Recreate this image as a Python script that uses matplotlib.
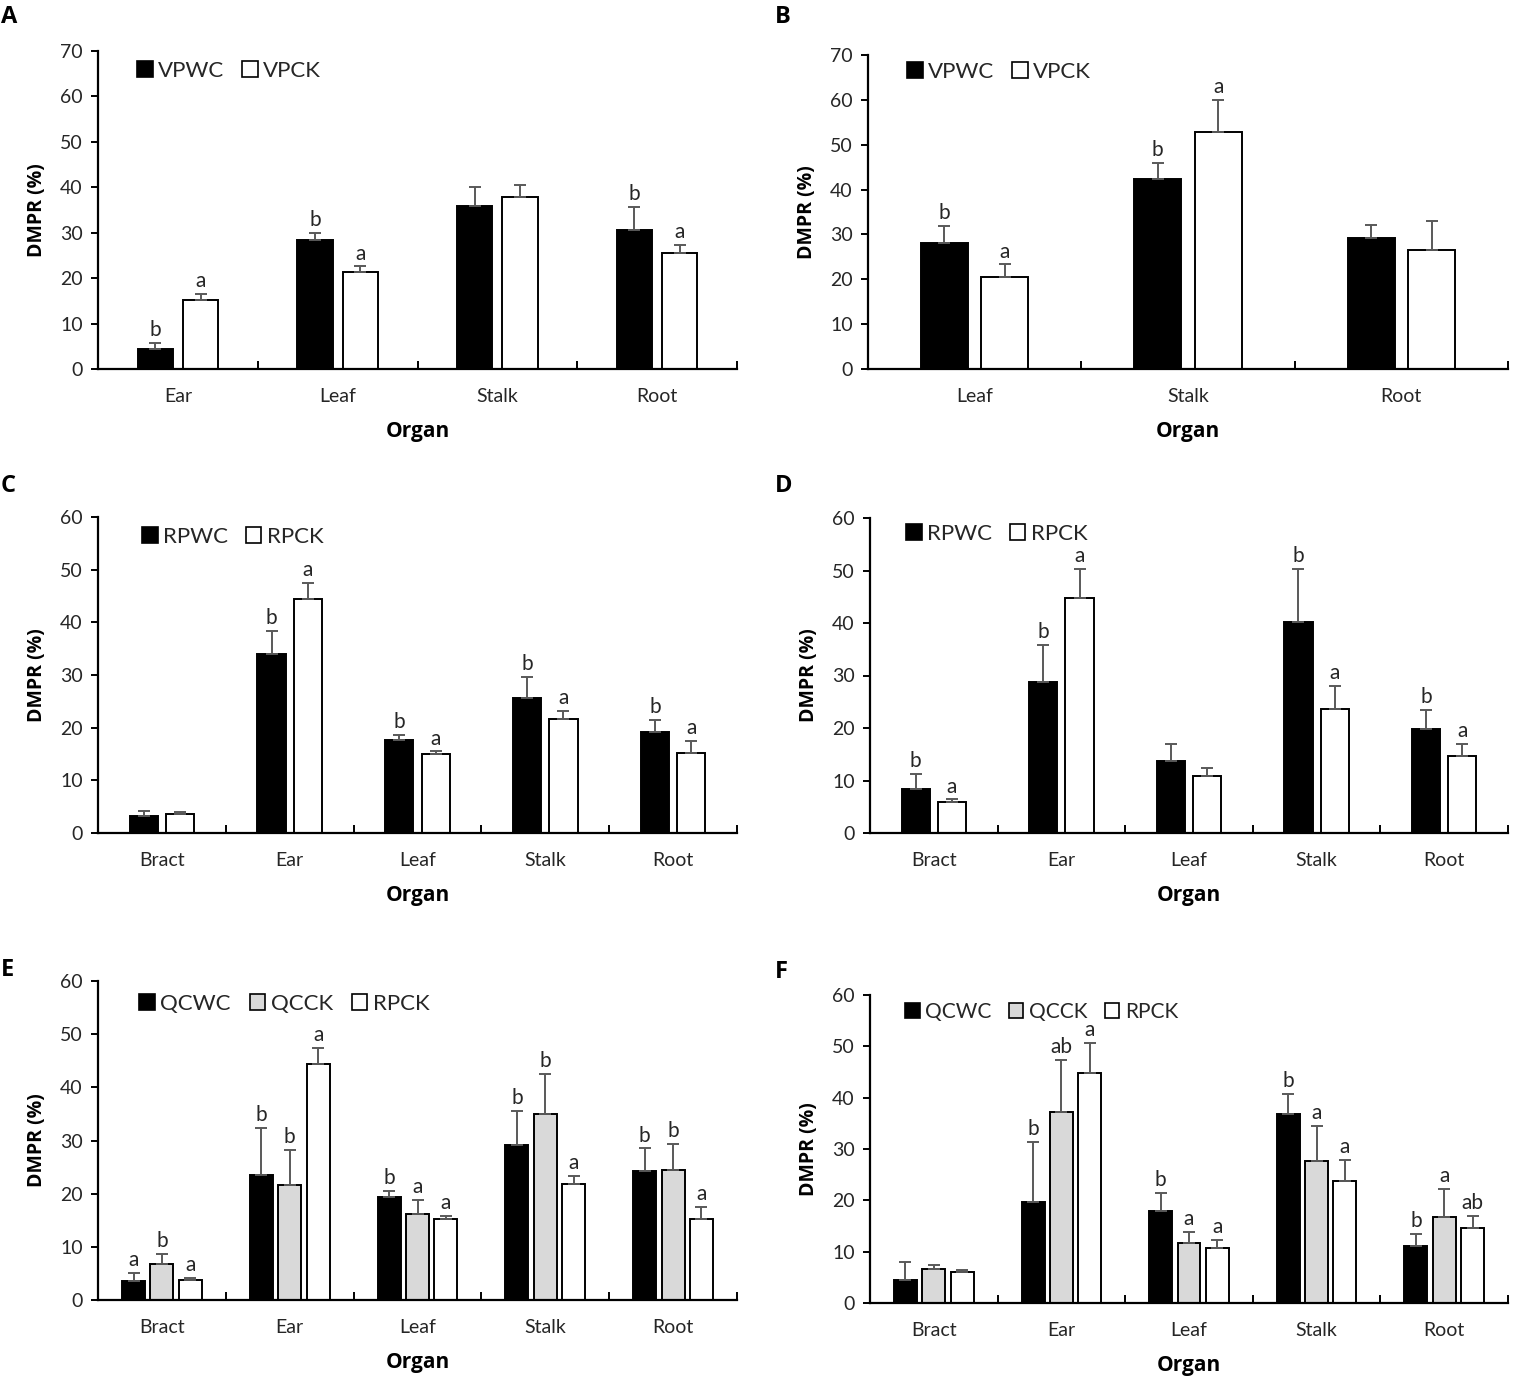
import matplotlib
matplotlib.use("Agg")
import matplotlib.pyplot as plt
from matplotlib.patches import Patch
import numpy as np

plt.rcParams['font.family'] = ['Lato', 'DejaVu Sans']

# ---------------- data ----------------
# Panel A
A_organs = ["Ear", "Leaf", "Stalk", "Root"]
A_series = ["VPWC", "VPCK"]
A_VPWC = [4.5, 28.4, 35.9, 30.6]
A_VPWC_err = [1.2, 1.5, 4.1, 5.1]
A_VPCK = [15.1, 21.4, 37.9, 25.5]
A_VPCK_err = [1.4, 1.2, 2.5, 1.9]
A_VPWC_let = ["b", "b", "", "b"]
A_VPCK_let = ["a", "a", "", "a"]

# Panel B
B_organs = ["Leaf", "Stalk", "Root"]
B_series = ["VPWC", "VPCK"]
B_VPWC = [28.2, 42.3, 29.2]
B_VPWC_err = [3.7, 3.6, 3.0]
B_VPCK = [20.4, 52.8, 26.6]
B_VPCK_err = [2.9, 7.2, 6.3]
B_VPWC_let = ["b", "b", ""]
B_VPCK_let = ["a", "a", ""]

# Panel C
C_organs = ["Bract", "Ear", "Leaf", "Stalk", "Root"]
C_series = ["RPWC", "RPCK"]
C_RPWC = [3.3, 34.0, 17.6, 25.7, 19.1]
C_RPWC_err = [0.9, 4.4, 1.0, 3.9, 2.4]
C_RPCK = [3.7, 44.5, 15.0, 21.7, 15.2]
C_RPCK_err = [0.3, 3.0, 0.5, 1.5, 2.3]
C_RPWC_let = ["", "b", "b", "b", "b"]
C_RPCK_let = ["", "a", "a", "a", "a"]

# Panel D
D_organs = ["Bract", "Ear", "Leaf", "Stalk", "Root"]
D_series = ["RPWC", "RPCK"]
D_RPWC = [8.4, 28.7, 13.7, 40.1, 19.8]
D_RPWC_err = [2.8, 7.2, 3.3, 10.2, 3.7]
D_RPCK = [5.9, 44.7, 10.8, 23.7, 14.6]
D_RPCK_err = [0.5, 5.6, 1.5, 4.3, 2.3]
D_RPWC_let = ["b", "b", "", "b", "b"]
D_RPCK_let = ["a", "a", "", "a", "a"]

# Panel E
E_organs = ["Bract", "Ear", "Leaf", "Stalk", "Root"]
E_series = ["QCWC", "QCCK", "RPCK"]
E_QCWC = [3.6, 23.6, 19.4, 29.2, 24.3]
E_QCWC_err = [1.5, 8.8, 1.1, 6.3, 4.2]
E_QCCK = [6.8, 21.6, 16.2, 34.9, 24.4]
E_QCCK_err = [1.9, 6.6, 2.6, 7.7, 4.9]
E_RPCK = [3.8, 44.4, 15.3, 21.8, 15.3]
E_RPCK_err = [0.4, 3.0, 0.5, 1.5, 2.2]
E_QCWC_let = ["a", "b", "b", "b", "b"]
E_QCCK_let = ["b", "b", "a", "b", "b"]
E_RPCK_let = ["a", "a", "a", "a", "a"]

# Panel F
F_organs = ["Bract", "Ear", "Leaf", "Stalk", "Root"]
F_series = ["QCWC", "QCCK", "RPCK"]
F_QCWC = [4.5, 19.7, 18.0, 36.9, 11.1]
F_QCWC_err = [3.4, 11.7, 3.4, 3.9, 2.4]
F_QCCK = [6.7, 37.3, 11.7, 27.6, 16.8]
F_QCCK_err = [0.8, 10.1, 2.1, 6.9, 5.4]
F_RPCK = [6.0, 44.8, 10.8, 23.7, 14.7]
F_RPCK_err = [0.5, 5.8, 1.5, 4.2, 2.2]
F_QCWC_let = ["", "b", "b", "b", "b"]
F_QCCK_let = ["", "ab", "a", "a", "a"]
F_RPCK_let = ["", "a", "a", "a", "ab"]

# ---------------- figure ----------------
W, H = 1535, 1382
fig = plt.figure(figsize=(W / 100, H / 100), dpi=100)

def rect(x0, x1, ytop, ybot):
    return [x0 / W, 1 - ybot / H, (x1 - x0) / W, (ybot - ytop) / H]

TXT = '#262626'
ERRC = '#595959'
BOLDFAM = ['Open Sans', 'DejaVu Sans']

def panel(box, letter, letter_xy, organs, series, vals, errs, lets, colors,
          ymax, legend_xy, legend_fs=16):
    ax = fig.add_axes(rect(*box))
    n = len(organs)
    k = len(series)
    if k == 2:
        width, pitch = 0.22, 0.284
    else:
        width, pitch = 0.18, 0.222
    centers = np.arange(n) + 0.5
    handles = []
    for j in range(k):
        off = (j - (k - 1) / 2) * pitch
        xs = centers + off
        ax.bar(xs, vals[j], width=width, color=colors[j], edgecolor='black',
               linewidth=1.4, zorder=3)
        ax.errorbar(xs, vals[j], yerr=[np.zeros(n), errs[j]], fmt='none',
                    ecolor=ERRC, elinewidth=1.4, capsize=4, capthick=1.4,
                    zorder=4)
        for xi, v, e, t in zip(xs, vals[j], errs[j], lets[j]):
            if t:
                ax.annotate(t, (xi, v + e), xytext=(0, 2),
                            textcoords='offset points', ha='center',
                            va='bottom', fontsize=15, color=TXT)
        handles.append(Patch(facecolor=colors[j], edgecolor='black',
                             linewidth=1.2, label=series[j]))
    ax.set_xlim(0, n)
    ax.set_ylim(0, ymax)
    ax.set_yticks(np.arange(0, ymax + 1, 10))
    ax.set_xticks(np.arange(0, n + 1))
    ax.set_xticklabels([])
    ax.set_xticks(centers, minor=True)
    ax.set_xticklabels(organs, minor=True)
    ax.tick_params(axis='x', which='major', direction='in', length=6,
                   width=1.4, color='black')
    ax.tick_params(axis='x', which='minor', length=0, pad=14,
                   labelsize=14, labelcolor=TXT)
    ax.tick_params(axis='y', direction='out', length=5, width=1.4,
                   labelsize=14, labelcolor=TXT, pad=6)
    for s in ['top', 'right']:
        ax.spines[s].set_visible(False)
    for s in ['left', 'bottom']:
        ax.spines[s].set_linewidth(1.6)
        ax.spines[s].set_zorder(5)
    ax_h = box[3] - box[2]
    ax_w = box[1] - box[0]
    ax.set_xlabel("Organ", fontsize=15, fontweight='bold', color='black',
                  family=BOLDFAM)
    ax.xaxis.set_label_coords(0.5, -52 / ax_h)
    ax.set_ylabel("DMPR (%)", fontsize=14, fontweight='bold', color='black',
                  family=BOLDFAM)
    ax.yaxis.set_label_coords(-51 / ax_w, 0.5)
    lx, ly = legend_xy
    ax.legend(handles=handles, loc='center left',
              bbox_to_anchor=((lx - box[0]) / ax_w, (box[3] - ly) / ax_h),
              frameon=False, ncol=k, handlelength=0.7, handleheight=0.7,
              handletextpad=0.25, columnspacing=0.85 if k == 3 else 0.8,
              fontsize=legend_fs, labelcolor=TXT, borderaxespad=0,
              borderpad=0)
    fig.text(letter_xy[0] / W, 1 - letter_xy[1] / H, letter, fontsize=17,
             fontweight='bold', ha='left', va='center', color='black',
             family=BOLDFAM)
    return ax

BW = ['black', 'white']
BGW = ['black', '#d9d9d9', 'white']

panel((98, 737, 51, 369), "A", (1, 17), A_organs, A_series,
      [A_VPWC, A_VPCK], [A_VPWC_err, A_VPCK_err], [A_VPWC_let, A_VPCK_let],
      BW, 70, (137, 71))
panel((868, 1508, 55, 369), "B", (775, 17), B_organs, B_series,
      [B_VPWC, B_VPCK], [B_VPWC_err, B_VPCK_err], [B_VPWC_let, B_VPCK_let],
      BW, 70, (907, 72))
panel((98, 737, 517, 833), "C", (1, 486), C_organs, C_series,
      [C_RPWC, C_RPCK], [C_RPWC_err, C_RPCK_err], [C_RPWC_let, C_RPCK_let],
      BW, 60, (142, 537))
panel((870, 1508, 518, 833), "D", (775, 486), D_organs, D_series,
      [D_RPWC, D_RPCK], [D_RPWC_err, D_RPCK_err], [D_RPWC_let, D_RPCK_let],
      BW, 60, (906, 534))
panel((98, 737, 981, 1300), "E", (1, 970), E_organs, E_series,
      [E_QCWC, E_QCCK, E_RPCK], [E_QCWC_err, E_QCCK_err, E_RPCK_err],
      [E_QCWC_let, E_QCCK_let, E_RPCK_let], BGW, 60, (139, 1004))
panel((870, 1508, 995, 1303), "F", (775, 972), F_organs, F_series,
      [F_QCWC, F_QCCK, F_RPCK], [F_QCWC_err, F_QCCK_err, F_RPCK_err],
      [F_QCWC_let, F_QCCK_let, F_RPCK_let], BGW, 60, (905, 1012),
      legend_fs=15)

fig.savefig("out.png", dpi=100)
